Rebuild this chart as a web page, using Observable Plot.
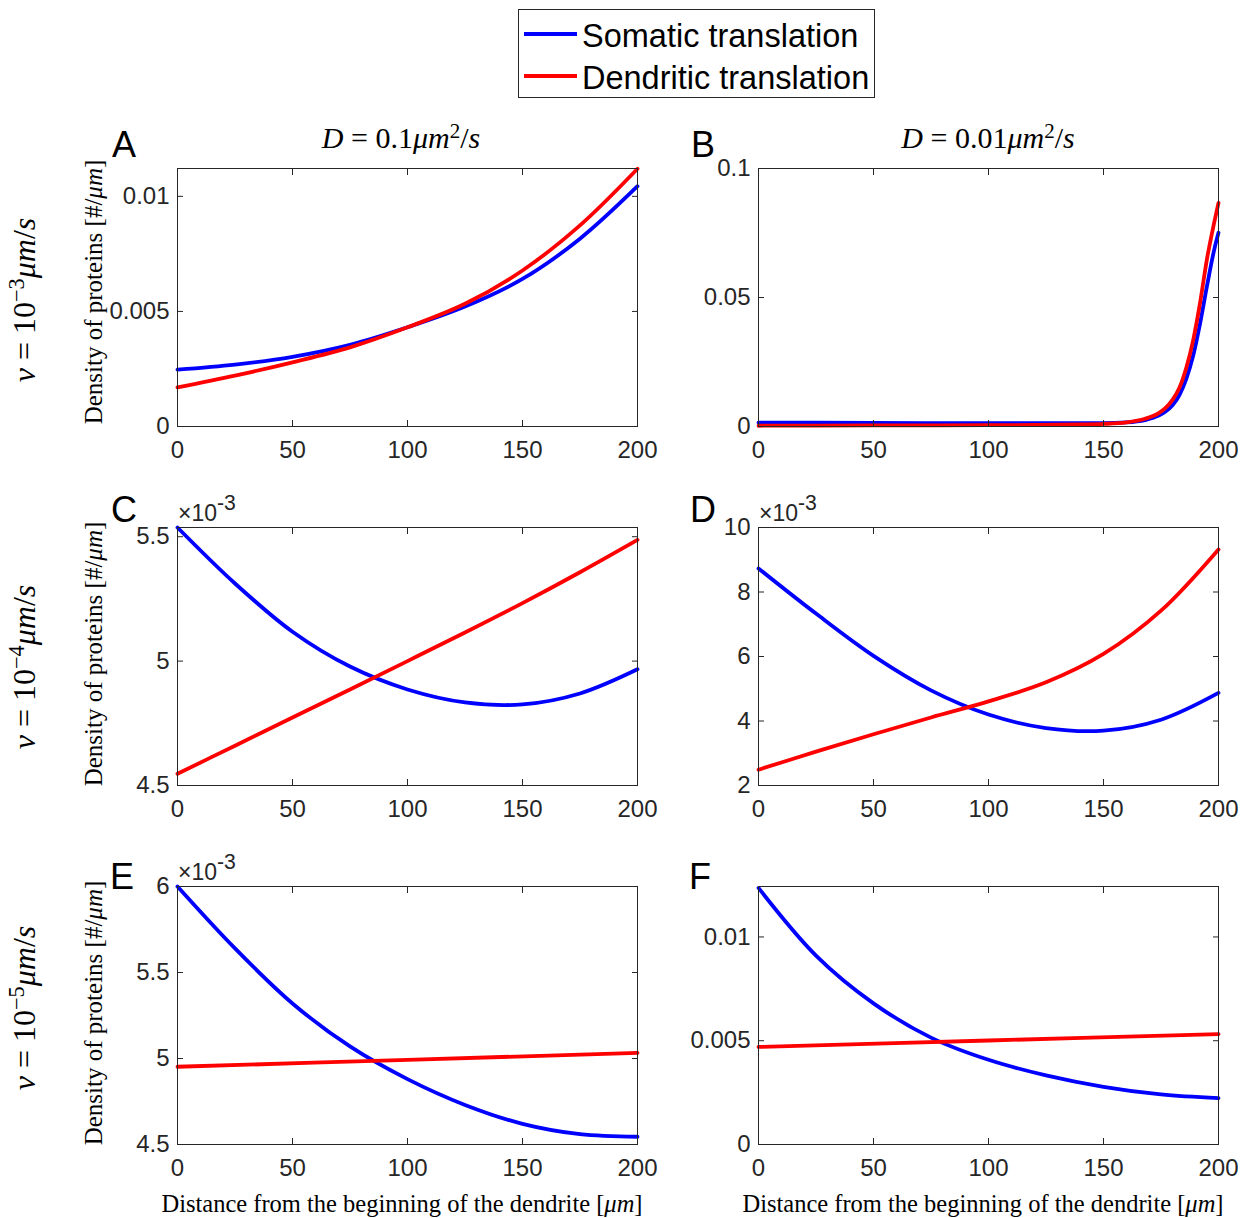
<!DOCTYPE html>
<html><head><meta charset="utf-8">
<script src="https://cdn.jsdelivr.net/npm/d3@7"></script>
<script src="https://cdn.jsdelivr.net/npm/@observablehq/plot@0.6"></script>
<style>
body{margin:0;background:#fff;}
#root{position:relative;width:1250px;height:1218px;overflow:hidden;background:#fff;}
.abs{position:absolute;white-space:nowrap;line-height:1;}
.serif{font-family:"Liberation Serif","Times New Roman",serif;color:#000;}
.sans{font-family:"Liberation Sans",Arial,Helvetica,sans-serif;}
sup.s{font-size:0.7em;vertical-align:0.5em;line-height:0;}
.eq{margin:0 0.25em;}
</style></head><body><div id="root"></div>
<script>
// ---- data ----
const distance = [0, 25, 50, 75, 100, 125, 150, 175, 200];
const distanceB = [0, 50, 100, 140, 150, 160, 168, 174, 177, 180, 183, 186, 189, 192, 195, 198, 200];
const distanceEnds = [0, 100, 200];
const xTicks = [0, 50, 100, 150, 200];

// Panel A: v = 1e-3, D = 0.1
const somaticA   = [0.00247, 0.00269, 0.00303, 0.00355, 0.00431, 0.00521, 0.00641, 0.00816, 0.01044];
const dendriticA = [0.00170, 0.00221, 0.00279, 0.00344, 0.00431, 0.00533, 0.00678, 0.00874, 0.01120];
// Panel B: v = 1e-3, D = 0.01
const somaticB   = [0.0015, 0.0014, 0.0013, 0.0013, 0.0013, 0.0016, 0.0025, 0.0042, 0.0058, 0.0082, 0.0122, 0.0185, 0.0275, 0.0400, 0.0545, 0.0680, 0.0751];
const dendriticB = [0.0003, 0.0004, 0.0005, 0.0008, 0.0010, 0.0016, 0.0030, 0.0052, 0.0072, 0.0103, 0.0150, 0.0228, 0.0335, 0.0480, 0.0650, 0.0785, 0.0867];
// Panel C: v = 1e-4, D = 0.1  (units of 1e-3)
const somaticC   = [5.537, 5.312, 5.118, 4.978, 4.886, 4.834, 4.826, 4.870, 4.967];
const dendriticC = [4.547, 4.660, 4.773, 4.886, 5.000, 5.115, 5.233, 5.357, 5.487];
// Panel D: v = 1e-4, D = 0.01 (units of 1e-3)
const somaticD   = [8.73, 7.33, 6.02, 4.95, 4.20, 3.78, 3.70, 4.04, 4.87];
const dendriticD = [2.49, 3.05, 3.59, 4.11, 4.61, 5.20, 6.08, 7.42, 9.32];
// Panel E: v = 1e-5, D = 0.1 (units of 1e-3)
const somaticE   = [6.00, 5.64, 5.32, 5.07, 4.88, 4.73, 4.62, 4.56, 4.545];
const dendriticE = [4.952, 4.992, 5.033];
// Panel F: v = 1e-5, D = 0.01
const somaticF   = [0.01236, 0.00910, 0.00680, 0.00515, 0.00408, 0.00333, 0.00278, 0.00241, 0.00223];
const dendriticF = [0.00470, 0.00501, 0.00532];

const seriesNames = ["Somatic translation", "Dendritic translation"];
const seriesColors = ["#0000ff", "#ff0000"];
const panelLetters = ["A", "B", "C", "D", "E", "F"];
const colTitles = ["0.1", "0.01"];
const rowExponents = ["−3", "−4", "−5"];
const yTicksA = [0, 0.005, 0.01];
const yTicksB = [0, 0.05, 0.1];
const yTicksC = [4.5, 5, 5.5];
const yTicksD = [2, 4, 6, 8, 10];
const yTicksE = [4.5, 5, 5.5, 6];
const yTicksF = [0, 0.005, 0.01];

// ---- layout ----
const colLeft = [177, 758];
const rowTop = [168, 527, 886];
const plotW = 460, plotH = 258;
const mL = 90, mR = 20, mT = 40, mB = 40;

const panels = [
  {col:0,row:0,domain:[0,0.01121],ticks:yTicksA,sx:distance,sy:somaticA,dx:distance,dy:dendriticA,curve:"catmull-rom",exp:false},
  {col:1,row:0,domain:[0,0.1],ticks:yTicksB,sx:distanceB,sy:somaticB,dx:distanceB,dy:dendriticB,curve:"monotone-x",exp:false},
  {col:0,row:1,domain:[4.5,5.537],ticks:yTicksC,sx:distance,sy:somaticC,dx:distance,dy:dendriticC,curve:"catmull-rom",exp:true},
  {col:1,row:1,domain:[2,10],ticks:yTicksD,sx:distance,sy:somaticD,dx:distance,dy:dendriticD,curve:"catmull-rom",exp:true},
  {col:0,row:2,domain:[4.5,6],ticks:yTicksE,sx:distance,sy:somaticE,dx:distanceEnds,dy:dendriticE,curve:"catmull-rom",exp:true},
  {col:1,row:2,domain:[0,0.01243],ticks:yTicksF,sx:distance,sy:somaticF,dx:distanceEnds,dy:dendriticF,curve:"catmull-rom",exp:false},
];

const root = document.getElementById("root");
const tickColor = "#262626";
const fmt = d => String(d);

panels.forEach((p, i) => {
  const som = p.sx.map((x, k) => ({x, y: p.sy[k]}));
  const den = p.dx.map((x, k) => ({x, y: p.dy[k]}));
  const svg = Plot.plot({
    width: plotW + mL + mR, height: plotH + mT + mB,
    marginLeft: mL, marginRight: mR, marginTop: mT, marginBottom: mB,
    x: {domain: [0, 200]},
    y: {domain: p.domain},
    style: {background: "transparent", overflow: "visible", fontFamily: '"Liberation Sans", Arial, sans-serif', fontSize: "24px", color: tickColor},
    marks: [
      Plot.line(som, {x: "x", y: "y", stroke: seriesColors[0], strokeWidth: 3.8, curve: p.curve}),
      Plot.line(den, {x: "x", y: "y", stroke: seriesColors[1], strokeWidth: 3.8, curve: p.curve}),
      Plot.frame({stroke: tickColor, strokeWidth: 1}),
      Plot.axisX({ticks: xTicks, tickSize: -6, tickPadding: 20, tickFormat: fmt, label: null, fontSize: 24, stroke: tickColor, fill: tickColor}),
      Plot.axisX({anchor: "top", ticks: xTicks, tickSize: -6, fill: "none", label: null, stroke: tickColor}),
      Plot.axisY({ticks: p.ticks, tickSize: -6, tickPadding: 14, tickFormat: fmt, label: null, fontSize: 24, stroke: tickColor, fill: tickColor}),
      Plot.axisY({anchor: "right", ticks: p.ticks, tickSize: -6, fill: "none", label: null, stroke: tickColor}),
    ]
  });
  const wrap = document.createElement("div");
  wrap.className = "abs";
  wrap.style.left = (colLeft[p.col] - mL) + "px";
  wrap.style.top = (rowTop[p.row] - mT) + "px";
  wrap.appendChild(svg);
  root.appendChild(wrap);
});

function addText(html, x, y, cls, size, rotate) {
  const d = document.createElement("div");
  d.className = "abs " + cls;
  d.innerHTML = html;
  d.style.left = x + "px";
  d.style.top = y + "px";
  d.style.fontSize = size + "px";
  d.style.transform = "translate(-50%,-50%)" + (rotate ? " rotate(-90deg)" : "");
  root.appendChild(d);
  return d;
}

// panel letters
const letterPos = [[124,145],[703,145],[124,510],[703,510],[122,877],[700,877]];
panelLetters.forEach((L, i) => addText(L, letterPos[i][0], letterPos[i][1], "sans", 36, false));

// column titles
const titleX = [401, 988];
colTitles.forEach((v, i) => addText(`<i>D</i><span class="eq">=</span>${v}<i>μm</i><sup class="s">2</sup>/<i>s</i>`, titleX[i], 138, "serif", 30, false));

// row labels
const rowY = [300, 667, 1008];
rowExponents.forEach((e, i) => addText(`<i>v</i><span class="eq">=</span>10<sup class="s">${e}</sup><i>μm</i>/<i>s</i>`, 24, rowY[i], "serif", 32, true));

// y-axis labels
const ylabY = [292, 654, 1013];
ylabY.forEach(y => addText(`Density of proteins [#/<i>μm</i>]`, 93, y, "serif", 25, true));

// x-axis labels
[402, 983].forEach(x => addText(`Distance from the beginning of the dendrite [<i>μm</i>]`, x, 1204, "serif", 24.5, false));

// exponent annotations
panels.forEach((p, i) => {
  if (!p.exp) return;
  const d = document.createElement("div");
  d.className = "abs sans";
  d.style.left = (colLeft[p.col] + 1) + "px";
  d.style.top = (rowTop[p.row] - 25) + "px";
  d.style.fontSize = "23px";
  d.style.color = tickColor;
  d.innerHTML = `×10<sup style="font-size:0.92em;vertical-align:0.5em;line-height:0">-3</sup>`;
  root.appendChild(d);
});

// legend
const leg = document.createElement("div");
leg.className = "abs sans";
Object.assign(leg.style, {left: "518px", top: "9px", width: "355px", height: "87px", border: "1px solid #262626", background: "#fff"});
root.appendChild(leg);
seriesNames.forEach((name, i) => {
  const y = 24 + i * 42;
  const ln = document.createElement("div");
  Object.assign(ln.style, {position: "absolute", left: "5px", top: (y - 2) + "px", width: "53px", height: "4px", background: seriesColors[i]});
  leg.appendChild(ln);
  const t = document.createElement("div");
  Object.assign(t.style, {position: "absolute", left: "63px", top: (y - 15) + "px", fontSize: "32.5px", lineHeight: "34px", color: "#000", whiteSpace: "nowrap"});
  t.textContent = name;
  leg.appendChild(t);
});
</script></body></html>
